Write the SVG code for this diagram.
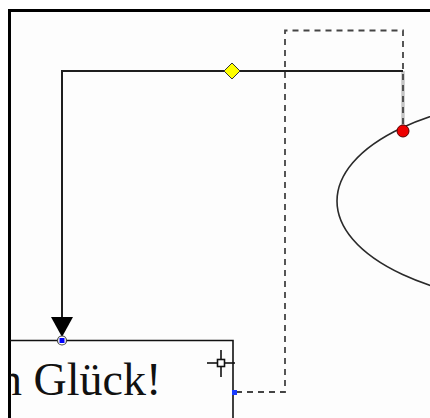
<svg xmlns="http://www.w3.org/2000/svg" width="430" height="418" viewBox="0 0 430 418">
  <style>
    .conn { fill: none; stroke: #1e1e1e; stroke-width: 2; }
    .dash { fill: none; stroke: #444444; stroke-width: 1.8; stroke-dasharray: 6 5; }
    .shape { fill: none; stroke: #2a2a2a; stroke-width: 1.6; }
    .label { font-family: "Liberation Serif", "Times New Roman", serif; font-size: 46px; fill: #111; }
  </style>
  <defs>
    <clipPath id="boxclip">
      <rect x="10" y="341" width="223" height="77"/>
    </clipPath>
  </defs>
  <rect x="0" y="0" width="430" height="418" fill="#ffffff"/>
  <g id="frame">
    <rect x="9.5" y="10.5" width="430" height="420" fill="#fdfdfd" stroke="#000" stroke-width="3"/>
  </g>
  <g id="ellipse-node">
    <ellipse cx="561" cy="201" rx="224" ry="104" class="shape"/>
  </g>
  <g id="text-node">
    <path d="M10 340.5 H233 V418" fill="none" stroke="#111" stroke-width="1.6"/>
    <text class="label" x="-1" y="395" clip-path="url(#boxclip)">n Glück!</text>
  </g>
  <g id="connectors">
    <path d="M403 131 V71" fill="none" stroke="#c4c4c4" stroke-width="3.5"/>
    <path class="dash" d="M236 392 H285 V30.5 H403 V125"/>
    <path class="conn" d="M403 71 H62 V318"/>
    <polygon points="51,317 73,317 62,337" fill="#000"/>
  </g>
  <g id="handles">
    <polygon points="232,63 240,71 232,79 224,71" fill="#ffff00" stroke="#333" stroke-width="1"/>
    <circle cx="403" cy="131" r="6" fill="#ee0000" stroke="#5a0000" stroke-width="1"/>
    <circle cx="62" cy="340.5" r="4.5" fill="#fff" stroke="#444" stroke-width="1.2"/>
    <rect x="59.5" y="338" width="5" height="5" fill="#0000ff"/>
    <rect x="232" y="390" width="5" height="5" fill="#1a3cff"/>
    <g id="crosshair" stroke="#111" stroke-width="1.6">
      <line x1="207" y1="363" x2="235" y2="363"/>
      <line x1="221" y1="350" x2="221" y2="377"/>
      <rect x="217.5" y="359.5" width="7" height="7" fill="#fff"/>
    </g>
  </g>
</svg>
